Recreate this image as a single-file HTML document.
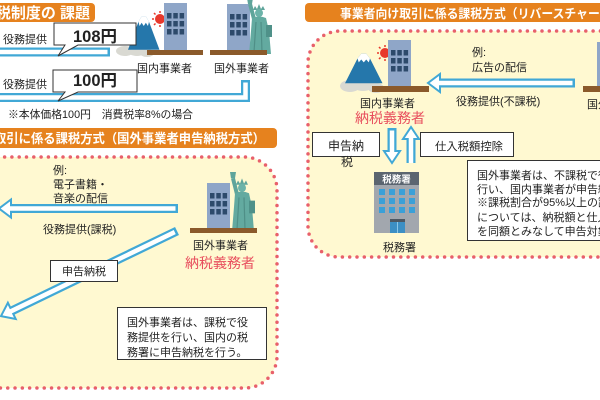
<!DOCTYPE html>
<html><head><meta charset="utf-8">
<style>
html,body{margin:0;padding:0;background:#fff;}
svg{display:block;}
text{font-family:"Liberation Sans","Noto Sans CJK JP",sans-serif;fill:#222;}
.t11{font-size:11px;}
.red{fill:#e84f5e;font-size:14px;}
.ttl{fill:#fff;font-weight:bold;}
</style></head><body>
<svg width="600" height="400" viewBox="0 0 600 400" xmlns="http://www.w3.org/2000/svg">
<defs>
  <g id="bld">
    <rect x="0" y="0" width="23" height="47" fill="#8fa6c8"/>
    <g fill="#2d4a6b">
      <rect x="3" y="10" width="4.5" height="5.5"/><rect x="9.3" y="10" width="4.5" height="5.5"/><rect x="15.6" y="10" width="4.5" height="5.5"/>
      <rect x="3" y="18" width="4.5" height="5.5"/><rect x="9.3" y="18" width="4.5" height="5.5"/><rect x="15.6" y="18" width="4.5" height="5.5"/>
      <rect x="3" y="26" width="4.5" height="5.5"/><rect x="9.3" y="26" width="4.5" height="5.5"/><rect x="15.6" y="26" width="4.5" height="5.5"/>
    </g>
  </g>
  <g id="statue">
    <path d="M10,21 L6,6" stroke="#5fa59b" stroke-width="4" fill="none"/>
    <polygon points="3,0 9,0 8,6 4,6" fill="#5fa59b"/>
    <polygon points="9,12 11,8 13,11 15,6 17,11 19,8 21,12" fill="#5fa59b"/>
    <circle cx="15" cy="15" r="4" fill="#6cb3a9"/>
    <path d="M8,20 Q15,17 22,20 L25,33 L27,56 L5,56 L7,33 Z" fill="#63aaa0"/>
    <path d="M12,24 L10,54 M17,24 L18,54" stroke="#4f8f87" stroke-width="1.2" fill="none"/>
    <rect x="22" y="27" width="6" height="12" fill="#4f9189"/>
  </g>
  <g id="fuji">
    <path d="M0,35 Q5,22 10,9 L13,4 L17,4 L20,9 Q25,22 30,35 Z" fill="#2577ab"/>
    <path d="M10,9 L13,4 L17,4 L20,9 L19,13 L17,10 L15,13 L13,10 L11,13 Z" fill="#fff"/>
  </g>
  <g id="sun">
    <circle cx="0" cy="0" r="5" fill="#e8382c"/>
    <path d="M0,-8V-6 M0,6V8 M-8,0H-6 M6,0H8 M-6,-6L-4.5,-4.5 M4.5,4.5L6,6 M-6,6L-4.5,4.5 M4.5,-4.5L6,-6" stroke="#e8382c" stroke-width="1.5"/>
  </g>
</defs>

<!-- ================= TOP LEFT ================= -->
<rect x="-10" y="3" width="105" height="19" rx="4" fill="#e6821e"/>
<text class="ttl" x="90" y="18" font-size="15" text-anchor="end">消費税制度の 課題</text>

<use href="#sun" x="160" y="19"/>
<g fill="#d9d9d2"><ellipse cx="125" cy="51" rx="9" ry="5"/><ellipse cx="137" cy="50" rx="10" ry="6"/><ellipse cx="147" cy="53" rx="7" ry="4"/></g>
<use href="#fuji" transform="translate(128,12) scale(1.05,1.08)"/>
<use href="#bld" x="164" y="3"/>
<use href="#bld" x="227" y="4"/>
<use href="#statue" transform="translate(244,-2)"/>
<rect x="147" y="50" width="56" height="5" fill="#8b5a2b"/>
<rect x="210" y="50" width="57" height="5" fill="#8b5a2b"/>
<text class="t11" x="137" y="72">国内事業者</text>
<text class="t11" x="214" y="72">国外事業者</text>

<line x1="-5" y1="52" x2="110" y2="52" stroke="#41a8d6" stroke-width="9"/>
<line x1="-5" y1="52" x2="107.5" y2="52" stroke="#fff" stroke-width="4.5"/>
<path d="M-5,97.5 H245.5 V80" stroke="#41a8d6" stroke-width="9" fill="none"/>
<path d="M-5,97.5 H245.5 V82.5" stroke="#fff" stroke-width="4.5" fill="none"/>

<text class="t11" x="3" y="43">役務提供</text>
<text class="t11" x="3" y="88">役務提供</text>

<path d="M54,23 H136 V45 H78 L58,56 L65,45 H54 Z" fill="#fff" stroke="#333" stroke-width="1"/>
<text x="73" y="42" font-size="16.5" font-weight="bold">108円</text>
<path d="M53,70 H137 V92 H78 L58,101 L65,92 H53 Z" fill="#fff" stroke="#333" stroke-width="1"/>
<text x="73" y="86" font-size="16.5" font-weight="bold">100円</text>

<text class="t11" x="8" y="118" textLength="185" lengthAdjust="spacingAndGlyphs">※本体価格100円　消費税率8%の場合</text>

<!-- ================= LEFT PANEL ================= -->
<rect x="-10" y="128" width="287" height="20" rx="4" fill="#e6821e"/>
<text class="ttl" x="-6" y="143" font-size="13" textLength="271" lengthAdjust="spacingAndGlyphs">取引に係る課税方式（国外事業者申告納税方式）</text>

<path d="M-10,157 H244 A33,33 0 0 1 277,190 V356 A32,32 0 0 1 245,388 H-10 Z" fill="#fff9d1" stroke="#e8606b" stroke-width="3.5" stroke-dasharray="0 7.3" stroke-linecap="round"/>

<text class="t11" x="53" y="174">例:</text>
<text class="t11" x="53" y="188">電子書籍・</text>
<text class="t11" x="53" y="202">音楽の配信</text>

<g transform="translate(178,208.5) rotate(180)">
  <line x1="0" y1="0" x2="169" y2="0" stroke="#41a8d6" stroke-width="9"/>
  <polygon points="179,0 167,-9 167,9" fill="#fff" stroke="#41a8d6" stroke-width="2"/>
  <line x1="2.5" y1="0" x2="170" y2="0" stroke="#fff" stroke-width="4.5"/>
</g>
<text class="t11" x="43" y="233">役務提供(課税)</text>

<g transform="translate(177,231) rotate(154.2)">
  <line x1="0" y1="0" x2="185" y2="0" stroke="#41a8d6" stroke-width="9"/>
  <polygon points="195.5,0 183.5,-9 183.5,9" fill="#fff" stroke="#41a8d6" stroke-width="2"/>
  <line x1="2.5" y1="0" x2="186.5" y2="0" stroke="#fff" stroke-width="4.5"/>
</g>

<rect x="50.5" y="260.5" width="67" height="21" fill="#fff" stroke="#333" stroke-width="1"/>
<text class="t11" x="62" y="275">申告納税</text>

<use href="#bld" x="207" y="183"/>
<use href="#statue" transform="translate(227,172) scale(1,1.06)"/>
<rect x="190" y="228" width="67" height="5" fill="#8b5a2b"/>
<text class="t11" x="193" y="249">国外事業者</text>
<text class="red" x="185" y="268" font-size="13.6">納税義務者</text>

<rect x="117.5" y="307.5" width="149" height="52" fill="#fff" stroke="#333" stroke-width="1"/>
<text class="t11" x="127" y="326">国外事業者は、課税で役</text>
<text class="t11" x="127" y="341">務提供を行い、国内の税</text>
<text class="t11" x="127" y="356">務署に申告納税を行う。</text>

<!-- ================= RIGHT PANEL ================= -->
<rect x="305" y="3" width="310" height="19" rx="4" fill="#e6821e"/>
<text class="ttl" x="340" y="18" font-size="12.5" textLength="307" lengthAdjust="spacingAndGlyphs">事業者向け取引に係る課税方式（リバースチャージ方式）</text>

<path d="M615,31 H340 A32,32 0 0 0 308,63 V226 A31,31 0 0 0 339,257 H615" fill="#fff9d1" stroke="#e8606b" stroke-width="3.5" stroke-dasharray="0 7.3" stroke-linecap="round"/>

<use href="#sun" x="385" y="53"/>
<g fill="#d9d9d2"><ellipse cx="350" cy="86" rx="10" ry="6"/><ellipse cx="363" cy="84" rx="11" ry="7"/><ellipse cx="376" cy="88" rx="8" ry="5"/></g>
<use href="#fuji" transform="translate(345,50) scale(1.25,0.95)"/>
<use href="#bld" x="388" y="40"/>
<rect x="372" y="86" width="57" height="6" fill="#8b5a2b"/>
<text class="t11" x="360" y="107">国内事業者</text>
<text class="red" x="355" y="123" font-size="14.5">納税義務者</text>

<rect x="597" y="42" width="23" height="44" fill="#8fa6c8"/>
<rect x="583" y="86" width="30" height="6" fill="#8b5a2b"/>
<text class="t11" x="587" y="108">国外事業者</text>

<text class="t11" x="472" y="56">例:</text>
<text class="t11" x="472" y="71">広告の配信</text>
<g transform="translate(575,83) rotate(180)">
  <line x1="0" y1="0" x2="137" y2="0" stroke="#41a8d6" stroke-width="9"/>
  <polygon points="147,0 135,-9 135,9" fill="#fff" stroke="#41a8d6" stroke-width="2"/>
  <line x1="2.5" y1="0" x2="138" y2="0" stroke="#fff" stroke-width="4.5"/>
</g>
<text class="t11" x="456" y="105">役務提供(不課税)</text>

<g transform="translate(392,128) rotate(90)">
  <line x1="0" y1="0" x2="25" y2="0" stroke="#41a8d6" stroke-width="9"/>
  <polygon points="35,0 23,-8 23,8" fill="#fff" stroke="#41a8d6" stroke-width="2"/>
  <line x1="2.5" y1="0" x2="26" y2="0" stroke="#fff" stroke-width="4.5"/>
</g>
<g transform="translate(411,163) rotate(-90)">
  <line x1="0" y1="0" x2="26" y2="0" stroke="#41a8d6" stroke-width="9"/>
  <polygon points="36,0 24,-8 24,8" fill="#fff" stroke="#41a8d6" stroke-width="2"/>
  <line x1="0" y1="0" x2="27" y2="0" stroke="#fff" stroke-width="4.5"/>
</g>

<rect x="312.5" y="132.5" width="67" height="24" fill="#fff" stroke="#333" stroke-width="1"/>
<text x="328" y="150" font-size="12">申告納</text>
<text x="341" y="166" font-size="12">税</text>
<rect x="420.5" y="132.5" width="93" height="24" fill="#fff" stroke="#333" stroke-width="1"/>
<text class="t11" x="435" y="150" textLength="68" lengthAdjust="spacingAndGlyphs">仕入税額控除</text>

<g transform="translate(374,172)">
  <rect x="0" y="0" width="45" height="61" fill="#a2a7ae"/>
  <rect x="0" y="0" width="45" height="13" fill="#5b6570"/>
  <text x="22.5" y="10.5" font-size="9.5" font-weight="bold" text-anchor="middle" style="fill:#fff">税務署</text>
  <g fill="#3aa0d8">
    <rect x="5" y="17" width="6" height="6"/><rect x="15" y="17" width="6" height="6"/><rect x="25" y="17" width="6" height="6"/><rect x="35" y="17" width="6" height="6"/>
    <rect x="5" y="26" width="6" height="6"/><rect x="15" y="26" width="6" height="6"/><rect x="25" y="26" width="6" height="6"/><rect x="35" y="26" width="6" height="6"/>
    <rect x="5" y="35" width="6" height="6"/><rect x="15" y="35" width="6" height="6"/><rect x="25" y="35" width="6" height="6"/><rect x="35" y="35" width="6" height="6"/>
  </g>
  <rect x="16" y="47" width="15" height="14" fill="#3c8fc4"/>
  <rect x="16" y="47" width="15" height="3" fill="#4d5863"/>
  <line x1="23.5" y1="50" x2="23.5" y2="61" stroke="#8cc7e8" stroke-width="1"/>
</g>
<text class="t11" x="383" y="251">税務署</text>

<rect x="467.5" y="160.5" width="160" height="80" fill="#fff" stroke="#333" stroke-width="1"/>
<text class="t11" x="477" y="179">国外事業者は、不課税で役務提供を</text>
<text class="t11" x="477" y="193">行い、国内事業者が申告納税を行う。</text>
<text class="t11" x="477" y="206">※課税割合が95%以上の課税期間等</text>
<text class="t11" x="477" y="221">については、納税額と仕入税額控除</text>
<text class="t11" x="477" y="235">を同額とみなして申告対象外となる。</text>
</svg>
</body></html>
